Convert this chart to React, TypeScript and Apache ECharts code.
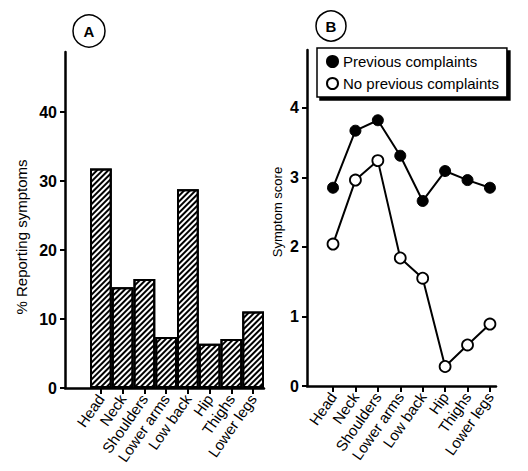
import React, { useEffect, useRef } from 'react';
import * as echarts from 'echarts';

const regions = ['Head', 'Neck', 'Shoulders', 'Lower arms', 'Low back', 'Hip', 'Thighs', 'Lower legs'];
const percentReporting = [31.8, 14.6, 15.8, 7.4, 28.8, 6.4, 7.1, 11.1];
const previousComplaints = [2.85, 3.67, 3.82, 3.31, 2.66, 3.09, 2.96, 2.85];
const noPreviousComplaints = [2.04, 2.96, 3.24, 1.84, 1.55, 0.28, 0.59, 0.89];
const percentTicks = [0, 10, 20, 30, 40];
const scoreTicks = [0, 1, 2, 3, 4];
const positions = regions.map((_, i) => i);

const FONT = 'Liberation Sans, Arial, Helvetica, sans-serif';

export default function App() {
  const ref = useRef<HTMLDivElement>(null);
  useEffect(() => {
    if (!ref.current) return;
    const chart = echarts.init(ref.current, null, { renderer: 'svg' });
    const axisLine = { show: true, onZero: false, lineStyle: { color: '#000', width: 2.5 } };
    const xAxisCommon = (idx: number, min: number, max: number) => ({
      type: 'value' as const,
      gridIndex: idx,
      min,
      max,
      axisLine,
      axisTick: { show: true, length: 6, lineStyle: { color: '#000', width: 2 }, customValues: positions },
      axisLabel: {
        customValues: positions,
        formatter: (v: number) => regions[Math.round(v)] ?? '',
        rotate: 55,
        fontSize: 15,
        fontFamily: FONT,
        color: '#000',
        margin: 8,
      },
      splitLine: { show: false },
    });
    const yAxisCommon = (idx: number, max: number, ticks: number[]) => ({
      type: 'value' as const,
      gridIndex: idx,
      min: 0,
      max,
      axisLine,
      axisTick: { show: true, length: 5, lineStyle: { color: '#000', width: 2 }, customValues: ticks },
      axisLabel: {
        customValues: ticks,
        fontSize: 16,
        fontWeight: 'bold',
        fontFamily: FONT,
        color: '#000',
        margin: 8,
      },
      splitLine: { show: false },
    });
    chart.setOption({
      animation: false,
      backgroundColor: '#fff',
      grid: [
        { left: 65, top: 52, width: 199, height: 336 },
        { left: 307, top: 50, width: 189, height: 336 },
      ],
      xAxis: [xAxisCommon(0, -1.65, 7.5), xAxisCommon(1, -1.16, 7.27)],
      yAxis: [yAxisCommon(0, 48.7, percentTicks), yAxisCommon(1, 4.83, scoreTicks)],
      legend: {
        data: [
          { name: 'Previous complaints', icon: 'circle' },
          { name: 'No previous complaints', icon: 'circle' },
        ],
        orient: 'vertical',
        left: 317,
        top: 48,
        padding: [6, 8, 6, 9],
        itemGap: 7,
        itemWidth: 11,
        itemHeight: 11,
        textStyle: { fontSize: 15, fontFamily: FONT, color: '#000' },
        borderColor: '#000',
        borderWidth: 1.5,
        backgroundColor: '#fff',
        shadowColor: '#000',
        shadowOffsetX: 3,
        shadowOffsetY: 3,
        shadowBlur: 0,
      },
      graphic: [
        { type: 'circle', shape: { cx: 89, cy: 31, r: 16 }, style: { fill: '#fff', stroke: '#000', lineWidth: 1.5 } },
        { type: 'text', x: 89, y: 31, style: { text: 'A', font: `bold 15px ${FONT}`, fill: '#000', align: 'center', verticalAlign: 'middle' } },
        { type: 'circle', shape: { cx: 331, cy: 26, r: 15 }, style: { fill: '#fff', stroke: '#000', lineWidth: 1.5 } },
        { type: 'text', x: 331, y: 26, style: { text: 'B', font: `bold 15px ${FONT}`, fill: '#000', align: 'center', verticalAlign: 'middle' } },
        { type: 'text', x: 21, y: 237, rotation: Math.PI / 2, style: { text: '% Reporting symptoms', font: `15px ${FONT}`, fill: '#000', align: 'center', verticalAlign: 'middle' } },
        { type: 'text', x: 277, y: 212, rotation: Math.PI / 2, style: { text: 'Symptom score', font: `13px ${FONT}`, fill: '#000', align: 'center', verticalAlign: 'middle' } },
      ],
      series: [
        {
          type: 'bar',
          name: '% Reporting symptoms',
          xAxisIndex: 0,
          yAxisIndex: 0,
          barWidth: 21.75,
          data: positions.map((i) => [i, percentReporting[i]]),
          itemStyle: {
            color: '#fff',
            borderColor: '#000',
            borderWidth: 2,
            decal: {
              symbol: 'rect',
              symbolSize: 1,
              dashArrayX: [1, 0],
              dashArrayY: [2, 2],
              rotation: -Math.PI / 4,
              color: '#000',
              backgroundColor: '#fff',
            },
          },
        },
        {
          type: 'line',
          name: 'Previous complaints',
          xAxisIndex: 1,
          yAxisIndex: 1,
          data: positions.map((i) => [i, previousComplaints[i]]),
          symbol: 'circle',
          symbolSize: 11,
          lineStyle: { color: '#000', width: 2 },
          itemStyle: { color: '#000', borderColor: '#000', borderWidth: 1 },
        },
        {
          type: 'line',
          name: 'No previous complaints',
          xAxisIndex: 1,
          yAxisIndex: 1,
          data: positions.map((i) => [i, noPreviousComplaints[i]]),
          symbol: 'circle',
          symbolSize: 11,
          lineStyle: { color: '#000', width: 2 },
          itemStyle: { color: '#fff', borderColor: '#000', borderWidth: 1.8 },
        },
      ],
    });
    return () => chart.dispose();
  }, []);
  return <div ref={ref} style={{ position: 'absolute', left: 0, top: 0, width: 528, height: 471 }} />;
}
